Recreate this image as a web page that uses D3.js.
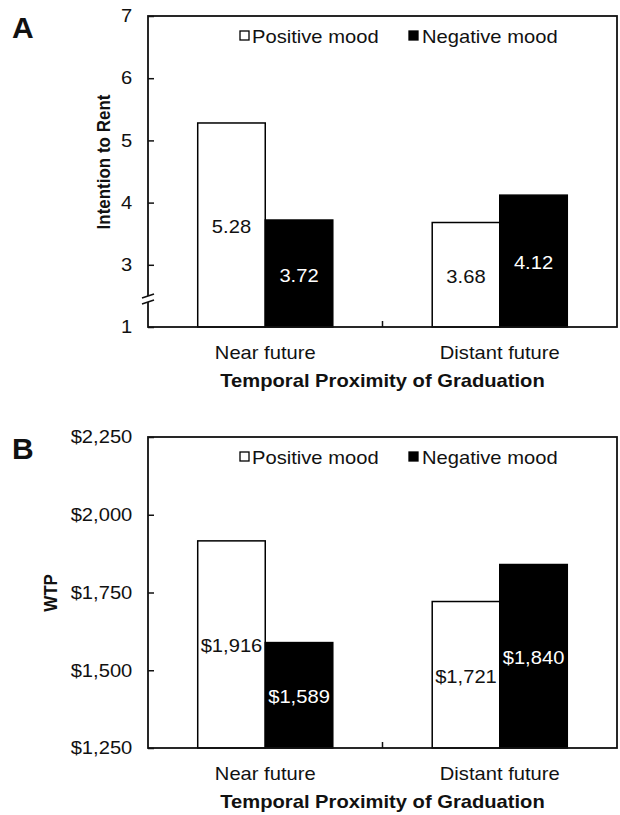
<!DOCTYPE html>
<html>
<head>
<meta charset="utf-8">
<script src="https://cdn.jsdelivr.net/npm/d3@7"></script>
<style>
  body { margin: 0; background: #fff; }
  svg text { font-family: "Liberation Sans", Arial, sans-serif; fill: #111; }
</style>
</head>
<body>
<svg id="chart"></svg>
<script>
// data
const categories = ['Near future', 'Distant future'];
const moods = ['Positive mood', 'Negative mood'];
const rentPositive = [5.28, 3.68];
const rentNegative = [3.72, 4.12];
const wtpPositive = [1916, 1721];
const wtpNegative = [1589, 1840];
// the rent axis is broken: the bottom tick (2 on the scale) is labelled "1"
const rentTicks = [2, 3, 4, 5, 6, 7];
const rentTickLabels = ['1', '3', '4', '5', '6', '7'];
const wtpTicks = [1250, 1500, 1750, 2000, 2250];
const wtpTickLabels = ['$1,250', '$1,500', '$1,750', '$2,000', '$2,250'];
const rentLabels = ['5.28', '3.68', '3.72', '4.12'];
const wtpLabels = ['$1,916', '$1,721', '$1,589', '$1,840'];

const width = 620;
const height = 815;
const left = 148;
const right = 617;
const stretch = 1.12; // the source figure is a bit wide

const svg = d3.select('#chart').attr('width', width).attr('height', height);

// horizontal text, widened like the source
const putText = (g, x, y, str) =>
  g.append('text')
    .attr('transform', `translate(${x},${y}) scale(${stretch},1)`)
    .text(str);

const x0 = d3.scaleBand()
  .domain(categories)
  .range([left, right])
  .paddingInner(0.424)
  .paddingOuter(0.212);

const x1 = d3.scaleBand()
  .domain(moods)
  .range([0, x0.bandwidth()]);

const drawPanel = ({ letter, top, bottom, domain, ticks, tickLabels, positive, negative, labels, yTitle, yTitleX, yTitleY, broken }) => {
  const g = svg.append('g');
  const y = d3.scaleLinear().domain(domain).range([bottom, top]);

  const rows = categories.flatMap((c, i) => [
    { cat: c, mood: moods[0], value: positive[i], label: labels[i] },
    { cat: c, mood: moods[1], value: negative[i], label: labels[i + 2] }
  ]);

  // bars
  g.selectAll('.bar')
    .data(rows)
    .enter()
    .append('rect')
      .classed('bar', true)
      .attr('x', d => x0(d.cat) + x1(d.mood))
      .attr('y', d => y(d.value))
      .attr('width', x1.bandwidth())
      .attr('height', d => bottom - y(d.value))
      .attr('fill', d => d.mood === moods[0] ? '#fff' : '#000')
      .attr('stroke', '#000')
      .attr('stroke-width', 1.5);

  // value labels, in the middle of each bar
  rows.forEach(d => {
    putText(g, x0(d.cat) + x1(d.mood) + x1.bandwidth() / 2, (y(d.value) + bottom) / 2 + 8, d.label)
      .attr('text-anchor', 'middle')
      .style('font-size', '18px')
      .style('fill', d.mood === moods[0] ? '#111' : '#fff');
  });

  // frame
  g.append('rect')
    .attr('x', left)
    .attr('y', top)
    .attr('width', right - left)
    .attr('height', bottom - top)
    .attr('fill', 'none')
    .attr('stroke', '#111')
    .attr('stroke-width', 1.8);

  // y axis
  const yAxis = g.append('g')
    .attr('transform', `translate(${left},0)`)
    .call(d3.axisLeft(y)
      .tickValues(ticks)
      .tickSizeInner(-6)
      .tickSizeOuter(0)
      .tickPadding(14)
      .tickFormat((d, i) => tickLabels[i]));
  yAxis.select('.domain').remove();
  yAxis.selectAll('line').attr('stroke', '#111').attr('stroke-width', 1.5);
  yAxis.selectAll('text')
    .attr('transform', `scale(${stretch},1)`)
    .style('font-size', '18px');

  // axis break marks
  if (broken) {
    const yb = y(2.45);
    g.append('rect')
      .attr('x', left - 2).attr('y', yb - 3)
      .attr('width', 4).attr('height', 6)
      .attr('fill', '#fff');
    [-3, 3].forEach(dy => {
      g.append('line')
        .attr('x1', left - 6).attr('y1', yb + dy + 2)
        .attr('x2', left + 6).attr('y2', yb + dy - 2)
        .attr('stroke', '#111')
        .attr('stroke-width', 1.6);
    });
  }

  // middle tick on x axis
  g.append('line')
    .attr('x1', (left + right) / 2).attr('x2', (left + right) / 2)
    .attr('y1', bottom).attr('y2', bottom - 6)
    .attr('stroke', '#111')
    .attr('stroke-width', 1.5);

  // category labels
  categories.forEach(c => {
    putText(g, x0(c) + x0.bandwidth() / 2, bottom + 32, c)
      .attr('text-anchor', 'middle')
      .style('font-size', '18px');
  });

  // x title
  putText(g, (left + right) / 2, bottom + 60, 'Temporal Proximity of Graduation')
    .attr('text-anchor', 'middle')
    .style('font-size', '18px')
    .style('font-weight', 'bold');

  // y title
  g.append('text')
    .attr('transform', `translate(${yTitleX},${yTitleY}) rotate(-90) scale(1,${stretch})`)
    .attr('text-anchor', 'middle')
    .style('font-size', '17px')
    .style('font-weight', 'bold')
    .text(yTitle);

  // legend
  const legendY = top + 27;
  [[240, 252], [409, 422]].forEach(([sx, tx], i) => {
    g.append('rect')
      .attr('x', sx).attr('y', legendY - 12)
      .attr('width', 9).attr('height', 9)
      .attr('fill', i === 0 ? '#fff' : '#000')
      .attr('stroke', '#000')
      .attr('stroke-width', 1.3);
    putText(g, tx, legendY, moods[i])
      .style('font-size', '18px');
  });

  // panel letter
  svg.append('text')
    .attr('x', 12)
    .attr('y', top + 22)
    .style('font-size', '30px')
    .style('font-weight', 'bold')
    .text(letter);
};

drawPanel({
  letter: 'A', top: 16, bottom: 327, domain: [2, 7],
  ticks: rentTicks, tickLabels: rentTickLabels,
  positive: rentPositive, negative: rentNegative, labels: rentLabels,
  yTitle: 'Intention to Rent', yTitleX: 110, yTitleY: 162, broken: true
});

drawPanel({
  letter: 'B', top: 437, bottom: 748, domain: [1250, 2250],
  ticks: wtpTicks, tickLabels: wtpTickLabels,
  positive: wtpPositive, negative: wtpNegative, labels: wtpLabels,
  yTitle: 'WTP', yTitleX: 57, yTitleY: 593, broken: false
});
</script>
</body>
</html>
